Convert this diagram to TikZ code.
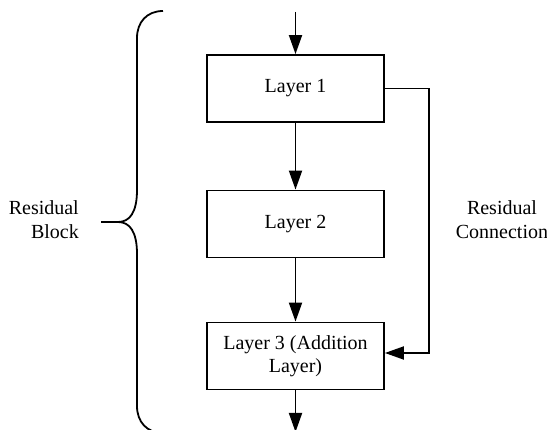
\documentclass[tikz,border=0pt]{standalone}
\usepackage{fontspec}
\setmainfont{Liberation Serif}
\usetikzlibrary{arrows.meta}
\begin{document}
\begin{tikzpicture}[x=1pt,y=-1pt,
  layerbox/.style={draw, line width=1.8pt, minimum width=177pt, minimum height=67pt, inner sep=0pt, align=center, font=\fontsize{20}{23.5}\selectfont},
  lbl/.style={align=center, font=\fontsize{20}{24}\selectfont, inner sep=0pt},
  conn/.style={line width=1.8pt, -{Triangle[length=19pt,width=13pt]}}]
\useasboundingbox (0,0) rectangle (547,430);
\node[layerbox] (l1) at (295.5,88.5) {Layer 1};
\node[layerbox] (l2) at (295.5,224) {Layer 2};
\node[layerbox] (l3) at (295.5,356) {Layer 3 (Addition\\Layer)};
\coordinate (in) at (295.5,12);
\coordinate (out) at (295.5,432);
\coordinate (rc) at (429,88.5);
\draw[conn] (in) -- (l1.north);
\draw[conn] (l1.south) -- (l2.north);
\draw[conn] (l2.south) -- (l3.north);
\draw[conn] (l3.south) -- (out);
\draw[conn] (l1.east |- rc) -- (rc) |- (l3.east |- 0,353);
\node[lbl] (rcl) at (502,220) {Residual\\Connection};
\node[lbl, align=right, anchor=east] (rbl) at (79,220) {Residual\\Block};
\draw[line width=1.8pt] (163,11) .. controls (147,11) and (137,22) .. (137,38)
  -- (137,190) .. controls (137,212) and (130,222) .. (118,222) -- (101,222);
\draw[line width=1.8pt] (118,222) .. controls (130,222) and (137,232) .. (137,254)
  -- (137,406) .. controls (137,422) and (147,433) .. (163,433);
\end{tikzpicture}
\end{document}
